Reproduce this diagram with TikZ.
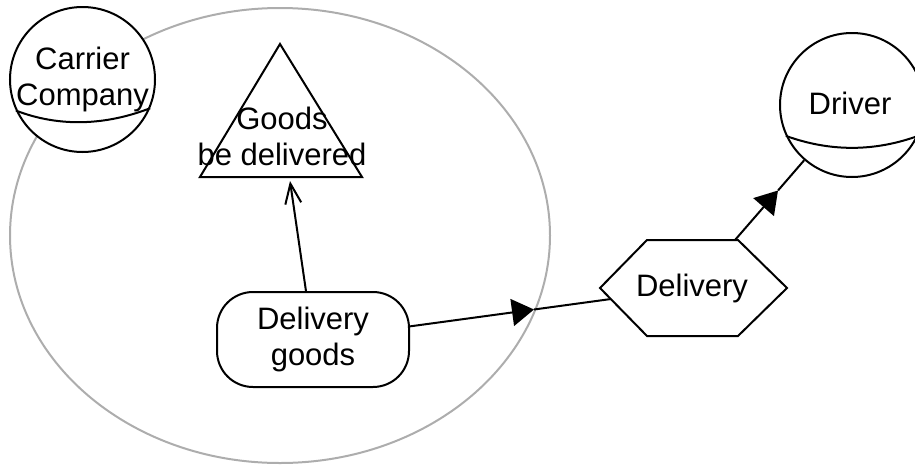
\documentclass[tikz,border=0pt]{standalone}
\usepackage{fontspec}
\setmainfont{Liberation Sans}
\usetikzlibrary{arrows.meta}
\begin{document}
\begin{tikzpicture}[x=1pt,y=-1pt,
  every node/.style={font=\fontsize{31}{36}\selectfont},
  outline/.style={draw=black, line width=2pt, fill=white},
  label text/.style={align=center, inner sep=0pt},
  boundary/.style={draw=black!32, line width=2pt},
  link/.style={draw=black, line width=2pt},
  flow/.style={link, -{Triangle[length=22pt,width=27pt]}},
  toward/.style={link, -{Straight Barb[length=20pt,width=16pt]}},
  ]
\useasboundingbox (0,0) rectangle (915,466);

% system boundary
\draw[boundary] (280,235.5) ellipse [x radius=270, y radius=227.5];

% actors
\node[outline, circle, minimum size=145pt, inner sep=0pt] (carrier) at (82.5,79.5) {};
\draw[link] (carrier.205) .. controls +(44,17) and +(-44,17) .. (carrier.337);
\node[label text] (carriertext) at (carrier) {Carrier\\Company};

\node[outline, circle, minimum size=144pt, inner sep=0pt] (driver) at (852,105) {};
\draw[link] (driver.205) .. controls +(44,16) and +(-44,16) .. (driver.335);
\node[label text] (drivertext) at (850,103) {Driver};

% goal
\draw[outline] (280,44) -- (362,177) -- (200,177) -- cycle;
\node[label text] (goods) at (282,136) {Goods\\be delivered};

% task
\node[outline, rectangle, rounded corners=36pt,
      minimum width=192pt, minimum height=95pt, label text]
      (dgoods) at (313,339.5) {Delivery\\goods};

% resource
\draw[outline] (600,288) -- (647,240) -- (738,240) -- (787,288)
               -- (738,336) -- (647,336) -- cycle;
\node[label text] (delivery) at (692,288) {Delivery};

% connector end points
\coordinate (goodsbase) at (290,181);
\coordinate (boundarycross) at (534,309.5);
\coordinate (hexwest) at (611,299);
\coordinate (hexnortheast) at (735,240);
\coordinate (drivertip) at (778,190.5);

% connectors
\draw[toward] (dgoods) -- (goodsbase);
\draw[flow] (dgoods) -- (boundarycross);
\draw[link] (boundarycross) -- (hexwest);
\draw[flow] (hexnortheast) -- (drivertip);
\draw[link] (drivertip) -- (driver);
\end{tikzpicture}
\end{document}
